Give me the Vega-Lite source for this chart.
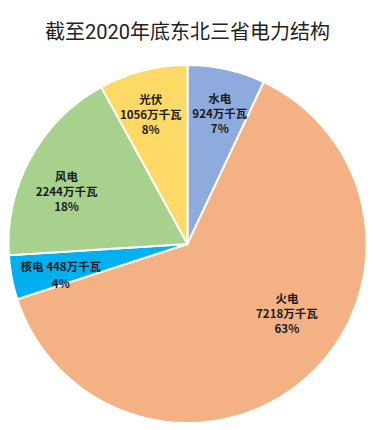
{
  "$schema": "https://vega.github.io/schema/vega-lite/v6.json",
  "width": 373,
  "height": 378,
  "padding": {"top": 23, "left": 0, "right": 0, "bottom": 0},
  "background": "white",
  "title": {
    "text": "截至2020年底东北三省电力结构",
    "font": "Roboto, 'Noto Sans CJK SC', sans-serif",
    "fontSize": 20,
    "fontWeight": "normal",
    "color": "#222222",
    "anchor": "middle",
    "offset": 12
  },
  "data": {
    "values": [
      {"idx": 1, "name": "水电", "capacity": 924, "pct": 7, "label": "水电\n924万千瓦\n7%"},
      {"idx": 2, "name": "火电", "capacity": 7218, "pct": 63, "label": "火电\n7218万千瓦\n63%"},
      {"idx": 3, "name": "核电", "capacity": 448, "pct": 4, "label": "核电  448万千瓦\n4%"},
      {"idx": 4, "name": "风电", "capacity": 2244, "pct": 18, "label": "风电\n2244万千瓦\n18%"},
      {"idx": 5, "name": "光伏", "capacity": 1056, "pct": 8, "label": "光伏\n1056万千瓦\n8%"}
    ]
  },
  "encoding": {
    "theta": {"field": "pct", "type": "quantitative", "stack": true},
    "order": {"field": "idx", "type": "quantitative", "sort": "ascending"}
  },
  "layer": [
    {
      "mark": {"type": "arc", "radius": 179, "stroke": "white", "strokeWidth": 2},
      "encoding": {
        "color": {
          "field": "name",
          "type": "nominal",
          "legend": null,
          "scale": {
            "domain": ["水电", "火电", "核电", "风电", "光伏"],
            "range": ["#8FAADC", "#F4B183", "#00B0F0", "#A9D18E", "#FFD966"]
          }
        }
      }
    },
    {
      "mark": {"type": "text", "radius": 148, "font": "'Noto Sans CJK SC', sans-serif", "fontSize": 11.5, "fontWeight": "bold", "lineBreak": "\n", "lineHeight": 15, "color": "#1a1a1a"},
      "encoding": {
        "text": {"field": "label"},
        "opacity": {"condition": {"test": "datum.name === '水电' || datum.name === '光伏'", "value": 1}, "value": 0}
      }
    },
    {
      "mark": {"type": "text", "radius": 138, "font": "'Noto Sans CJK SC', sans-serif", "fontSize": 11.5, "fontWeight": "bold", "lineBreak": "\n", "lineHeight": 15, "color": "#1a1a1a"},
      "encoding": {
        "text": {"field": "label"},
        "opacity": {"condition": {"test": "datum.name === '风电'", "value": 1}, "value": 0}
      }
    },
    {
      "mark": {"type": "text", "radius": 129, "font": "'Noto Sans CJK SC', sans-serif", "fontSize": 11.5, "fontWeight": "bold", "lineBreak": "\n", "lineHeight": 17, "color": "#1a1a1a"},
      "encoding": {
        "text": {"field": "label"},
        "opacity": {"condition": {"test": "datum.name === '核电'", "value": 1}, "value": 0}
      }
    },
    {
      "mark": {"type": "text", "radius": 114, "dx": 24, "dy": -30, "font": "'Noto Sans CJK SC', sans-serif", "fontSize": 11.5, "fontWeight": "bold", "lineBreak": "\n", "lineHeight": 15, "color": "#1a1a1a"},
      "encoding": {
        "text": {"field": "label"},
        "opacity": {"condition": {"test": "datum.name === '火电'", "value": 1}, "value": 0}
      }
    }
  ],
  "view": {"stroke": null}
}
